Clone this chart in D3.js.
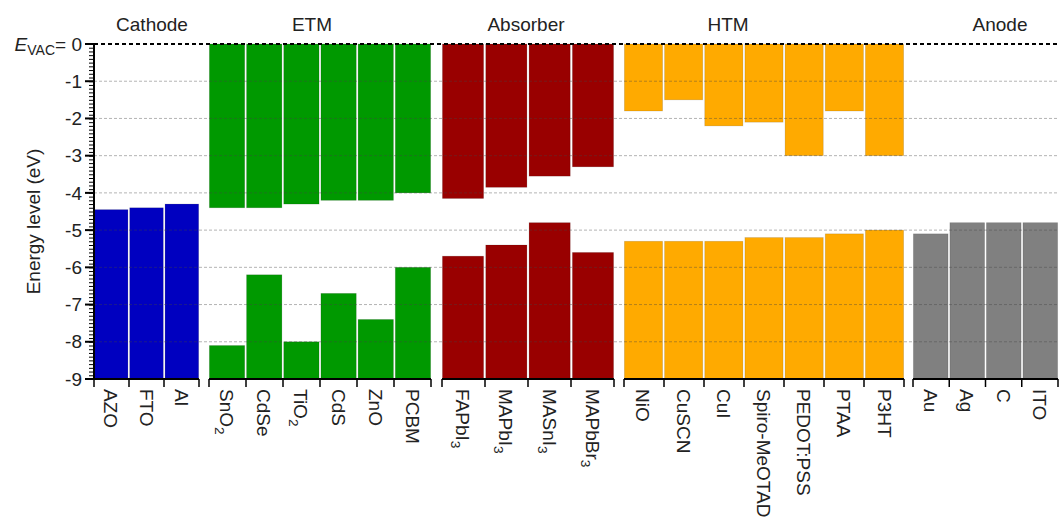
<!DOCTYPE html>
<html>
<head>
<meta charset="utf-8">
<script src="https://cdn.jsdelivr.net/npm/d3@7"></script>
<style>
  body { margin: 0; background: #fff; }
  svg { font-family: Arial, "Liberation Sans", sans-serif; }
</style>
</head>
<body>
<div id="chart"></div>
<script>
// groups of materials, energy levels in eV
const groups = ['Cathode', 'ETM', 'Absorber', 'HTM', 'Anode'];

const cathodeNames = ['AZO', 'FTO', 'Al'];
const cathodeWF = [-4.45, -4.4, -4.3];

const etmNames = ['SnO_2', 'CdSe', 'TiO_2', 'CdS', 'ZnO', 'PCBM'];
const etmLUMO = [-4.4, -4.4, -4.3, -4.2, -4.2, -4.0];
const etmHOMO = [-8.1, -6.2, -8.0, -6.7, -7.4, -6.0];

const absNames = ['FAPbI_3', 'MAPbI_3', 'MASnI_3', 'MAPbBr_3'];
const absLUMO = [-4.15, -3.85, -3.55, -3.3];
const absHOMO = [-5.7, -5.4, -4.8, -5.6];

const htmNames = ['NiO', 'CuSCN', 'CuI', 'Spiro-MeOTAD', 'PEDOT:PSS', 'PTAA', 'P3HT'];
const htmLUMO = [-1.8, -1.5, -2.2, -2.1, -3.0, -1.8, -3.0];
const htmHOMO = [-5.3, -5.3, -5.3, -5.2, -5.2, -5.1, -5.0];

const anodeNames = ['Au', 'Ag', 'C', 'ITO'];
const anodeWF = [-5.1, -4.8, -4.8, -4.8];

const yTicks = [0, -1, -2, -3, -4, -5, -6, -7, -8, -9];

// layout
const W = 1059, H = 522;
const mTop = 44, mBottom = 379, mLeft = 94;
const spans = [[94, 199], [209, 431], [442, 614], [624, 904], [913, 1058]];
const titleX = [152, 312, 526, 728, 1000];
const colors = ['#0000c0', '#009900', '#990000', '#ffaa00', '#808080'];
const fs = 19;

const svg = d3.select('#chart').append('svg')
  .attr('width', W).attr('height', H);

const y = d3.scaleLinear().domain([0, -9]).range([mTop, mBottom]);

const series = [
  { names: cathodeNames, low: cathodeWF },
  { names: etmNames, lumo: etmLUMO, homo: etmHOMO },
  { names: absNames, lumo: absLUMO, homo: absHOMO },
  { names: htmNames, lumo: htmLUMO, homo: htmHOMO },
  { names: anodeNames, low: anodeWF }
];

const barLayer = svg.append('g');
const gridLayer = svg.append('g');
const axisLayer = svg.append('g');

// label with optional subscript marked by "_"
function subText(sel, str, size) {
  const parts = str.split('_');
  sel.append('tspan').text(parts[0]);
  if (parts[1]) {
    sel.append('tspan').attr('dy', 5).attr('font-size', size * 0.72).text(parts[1]);
  }
}

series.forEach((s, gi) => {
  const x = d3.scaleBand().domain(s.names).range(spans[gi]).paddingInner(0.05).paddingOuter(0.01);
  const g = barLayer.append('g').attr('fill', colors[gi]);

  if (s.low) {
    g.selectAll('rect').data(s.names).join('rect')
      .attr('x', d => x(d)).attr('width', x.bandwidth())
      .attr('y', (d, i) => y(s.low[i]))
      .attr('height', (d, i) => y(-9) - y(s.low[i]));
  } else {
    g.selectAll('rect.lumo').data(s.names).join('rect').attr('class', 'lumo')
      .attr('x', d => x(d)).attr('width', x.bandwidth())
      .attr('y', y(0))
      .attr('height', (d, i) => y(s.lumo[i]) - y(0));
    g.selectAll('rect.homo').data(s.names).join('rect').attr('class', 'homo')
      .attr('x', d => x(d)).attr('width', x.bandwidth())
      .attr('y', (d, i) => y(s.homo[i]))
      .attr('height', (d, i) => y(-9) - y(s.homo[i]));
  }
  g.selectAll('rect').attr('stroke', '#000').attr('stroke-opacity', 0.15).attr('stroke-width', 0.8);

  // group x axis with ticks at bar boundaries
  const ax = axisLayer.append('g');
  const step = (spans[gi][1] - spans[gi][0]) / s.names.length;
  const bounds = d3.range(s.names.length + 1).map(i => spans[gi][0] + i * step);
  ax.append('line')
    .attr('x1', spans[gi][0]).attr('x2', spans[gi][1])
    .attr('y1', mBottom).attr('y2', mBottom)
    .attr('stroke', '#000').attr('stroke-width', 2);
  ax.selectAll('line.tk').data(bounds).join('line').attr('class', 'tk')
    .attr('x1', d => d).attr('x2', d => d)
    .attr('y1', mBottom).attr('y2', mBottom + 8)
    .attr('stroke', '#000').attr('stroke-width', 1.5);
  ax.selectAll('text').data(s.names).join('text')
    .attr('transform', d => `translate(${x(d) + x.bandwidth() / 2 - 7},${mBottom + 10}) rotate(90)`)
    .attr('font-size', fs).attr('fill', '#222')
    .each(function(d) { subText(d3.select(this), d, fs); });

  // group title
  svg.append('text')
    .attr('x', titleX[gi])
    .attr('y', 31)
    .attr('text-anchor', 'middle')
    .attr('font-size', fs).attr('fill', '#222')
    .text(groups[gi]);
});

// grid lines drawn over bars
gridLayer.selectAll('line').data(yTicks.filter(v => v < 0 && v > -9)).join('line')
  .attr('x1', mLeft).attr('x2', W)
  .attr('y1', d => y(d)).attr('y2', d => y(d))
  .attr('stroke', '#444').attr('stroke-opacity', 0.4)
  .attr('stroke-width', 1).attr('stroke-dasharray', '3,2');

// vacuum level
gridLayer.append('line')
  .attr('x1', mLeft).attr('x2', W)
  .attr('y1', y(0)).attr('y2', y(0))
  .attr('stroke', '#000').attr('stroke-width', 2).attr('stroke-dasharray', '4,3');

// y axis
const yAxis = axisLayer.append('g').attr('transform', `translate(${mLeft},0)`);
yAxis.call(d3.axisLeft(y).tickValues(d3.range(0, -9.01, -0.1)).tickSize(5).tickFormat(''));
yAxis.call(g => g.select('.domain').attr('stroke-width', 2).attr('d', `M-9,${y(0)}H0V${y(-9)}H-9`));
yAxis.selectAll('.tick line').attr('stroke-width', 1);
const major = axisLayer.append('g').attr('transform', `translate(${mLeft},0)`);
major.selectAll('line').data(yTicks).join('line')
  .attr('x1', -9).attr('x2', 0)
  .attr('y1', d => y(d)).attr('y2', d => y(d))
  .attr('stroke', '#000').attr('stroke-width', 2);
major.selectAll('text').data(yTicks.filter(v => v < 0)).join('text')
  .attr('x', -12).attr('y', d => y(d)).attr('dy', '0.35em')
  .attr('text-anchor', 'end').attr('font-size', fs).attr('fill', '#222')
  .text(d => String(d));

// E_VAC = 0 label
const ev = major.append('text')
  .attr('x', -12).attr('y', y(0)).attr('dy', '0.35em')
  .attr('text-anchor', 'end').attr('font-size', fs).attr('fill', '#222');
ev.append('tspan').attr('font-style', 'italic').text('E');
ev.append('tspan').attr('font-size', 14).attr('dy', 4).text('VAC');
ev.append('tspan').attr('dy', -4).text('= 0');

// y axis title
svg.append('text')
  .attr('transform', `translate(40,${(mTop + mBottom) / 2 + 10}) rotate(-90)`)
  .attr('text-anchor', 'middle').attr('font-size', fs).attr('fill', '#222')
  .text('Energy level (eV)');
</script>
</body>
</html>
